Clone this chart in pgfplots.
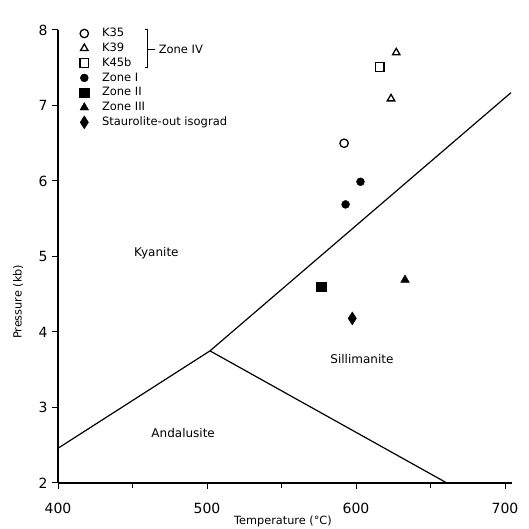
\documentclass[border=0pt]{standalone}
\usepackage{fontspec}
\setmainfont{DejaVu Sans}
\usepackage{pgfplots}
\pgfplotsset{compat=1.18}
\begin{document}
\begin{tikzpicture}
\begin{axis}[
  at={(0pt,0pt)}, anchor=south west,
  scale only axis,
  width=454.45pt, height=453pt,
  xmin=400, xmax=705, ymin=2, ymax=8,
  axis x line*=bottom, axis y line*=left,
  axis line style={line width=1.3pt, -},
  xtick={400,500,600,700}, minor xtick={450,550,650},
  ytick={2,3,4,5,6,7,8},
  tick align=outside,
  major tick length=6pt, minor tick length=5pt,
  every tick/.style={line width=1pt, black},
  /pgf/number format/assume math mode=true,
  xticklabel style={font=\fontsize{14}{14}\selectfont, anchor=center, yshift=-19pt},
  yticklabel style={font=\fontsize{14}{14}\selectfont, anchor=center, xshift=-9pt},
  xlabel={Temperature (°C)},
  ylabel={Pressure (kb)},
  every axis x label/.style={at={(axis description cs:0.495,-0.085)}, anchor=center, font=\fontsize{11.3}{12}\selectfont},
  every axis y label/.style={at={(axis description cs:-0.088,0.40)}, anchor=center, rotate=90, font=\fontsize{11.3}{12}\selectfont},
  legend image code/.code={\path (0pt,0pt) (26pt,0pt); \draw[#1] plot coordinates {(10pt,0pt)};},
  legend style={at={(axis description cs:0.035,1.009)}, anchor=north west, draw=none, fill=none,
    font=\fontsize{11.5}{12}\selectfont, inner sep=0pt, row sep=0pt,
    nodes={inner sep=1.5pt, text height=9pt, text depth=2.8pt}},
  legend cell align=left,
  clip=false,
]
% phase boundaries
\addplot[black, line width=1.2pt, forget plot] coordinates {(400,2.46) (502,3.75) (704,7.17)};
\addplot[black, line width=1.2pt, forget plot] coordinates {(502,3.75) (661,2.0)};

% data
\addplot[only marks, mark=o, mark size=4.2pt, mark options={line width=1.3pt, black}] coordinates {(592,6.50)};
\addlegendentry{K35}
\addplot[only marks, mark=triangle, mark size=4.3pt, mark options={line width=1.3pt, black}] coordinates {(627,7.70) (623.5,7.09)};
\addlegendentry{K39}
\addplot[only marks, mark=square, mark size=4.3pt, mark options={line width=1.3pt, black}] coordinates {(616,7.51)};
\addlegendentry{K45b}
\addplot[only marks, mark=*, mark size=4.0pt, mark options={black, fill=black}] coordinates {(603,5.99) (593,5.69)};
\addlegendentry{Zone I}
\addplot[only marks, mark=square*, mark size=4.8pt, mark options={black, fill=black}] coordinates {(576.5,4.60)};
\addlegendentry{Zone II}
\addplot[only marks, mark=triangle*, mark size=5pt, mark options={black, fill=black}] coordinates {(632.9,4.69)};
\addlegendentry{Zone III}
\addplot[only marks, mark=diamond*, mark size=6.5pt, mark options={black, fill=black, xscale=0.85}] coordinates {(597.5,4.18)};
\addlegendentry{Staurolite-out isograd}

% bracket for Zone IV
\draw[black, line width=1pt] (axis cs:458.2,8.0) -- (axis cs:460.4,8.0) -- (axis cs:460.4,7.497) -- (axis cs:458.2,7.497);
\draw[black, line width=1pt] (axis cs:460.4,7.748) -- (axis cs:465.1,7.748);
\node[anchor=west, inner sep=0pt, font=\fontsize{11.5}{12}\selectfont] at (axis cs:467.5,7.748) {Zone IV};

% field labels
\node[font=\fontsize{12}{12}\selectfont] at (axis cs:466,5.05) {Kyanite};
\node[font=\fontsize{12}{12}\selectfont] at (axis cs:604,3.64) {Sillimanite};
\node[font=\fontsize{12}{12}\selectfont] at (axis cs:484,2.66) {Andalusite};
\end{axis}
\pgfresetboundingbox
\path (-58pt,-46pt) rectangle (471pt,483pt);
\end{tikzpicture}
\end{document}
